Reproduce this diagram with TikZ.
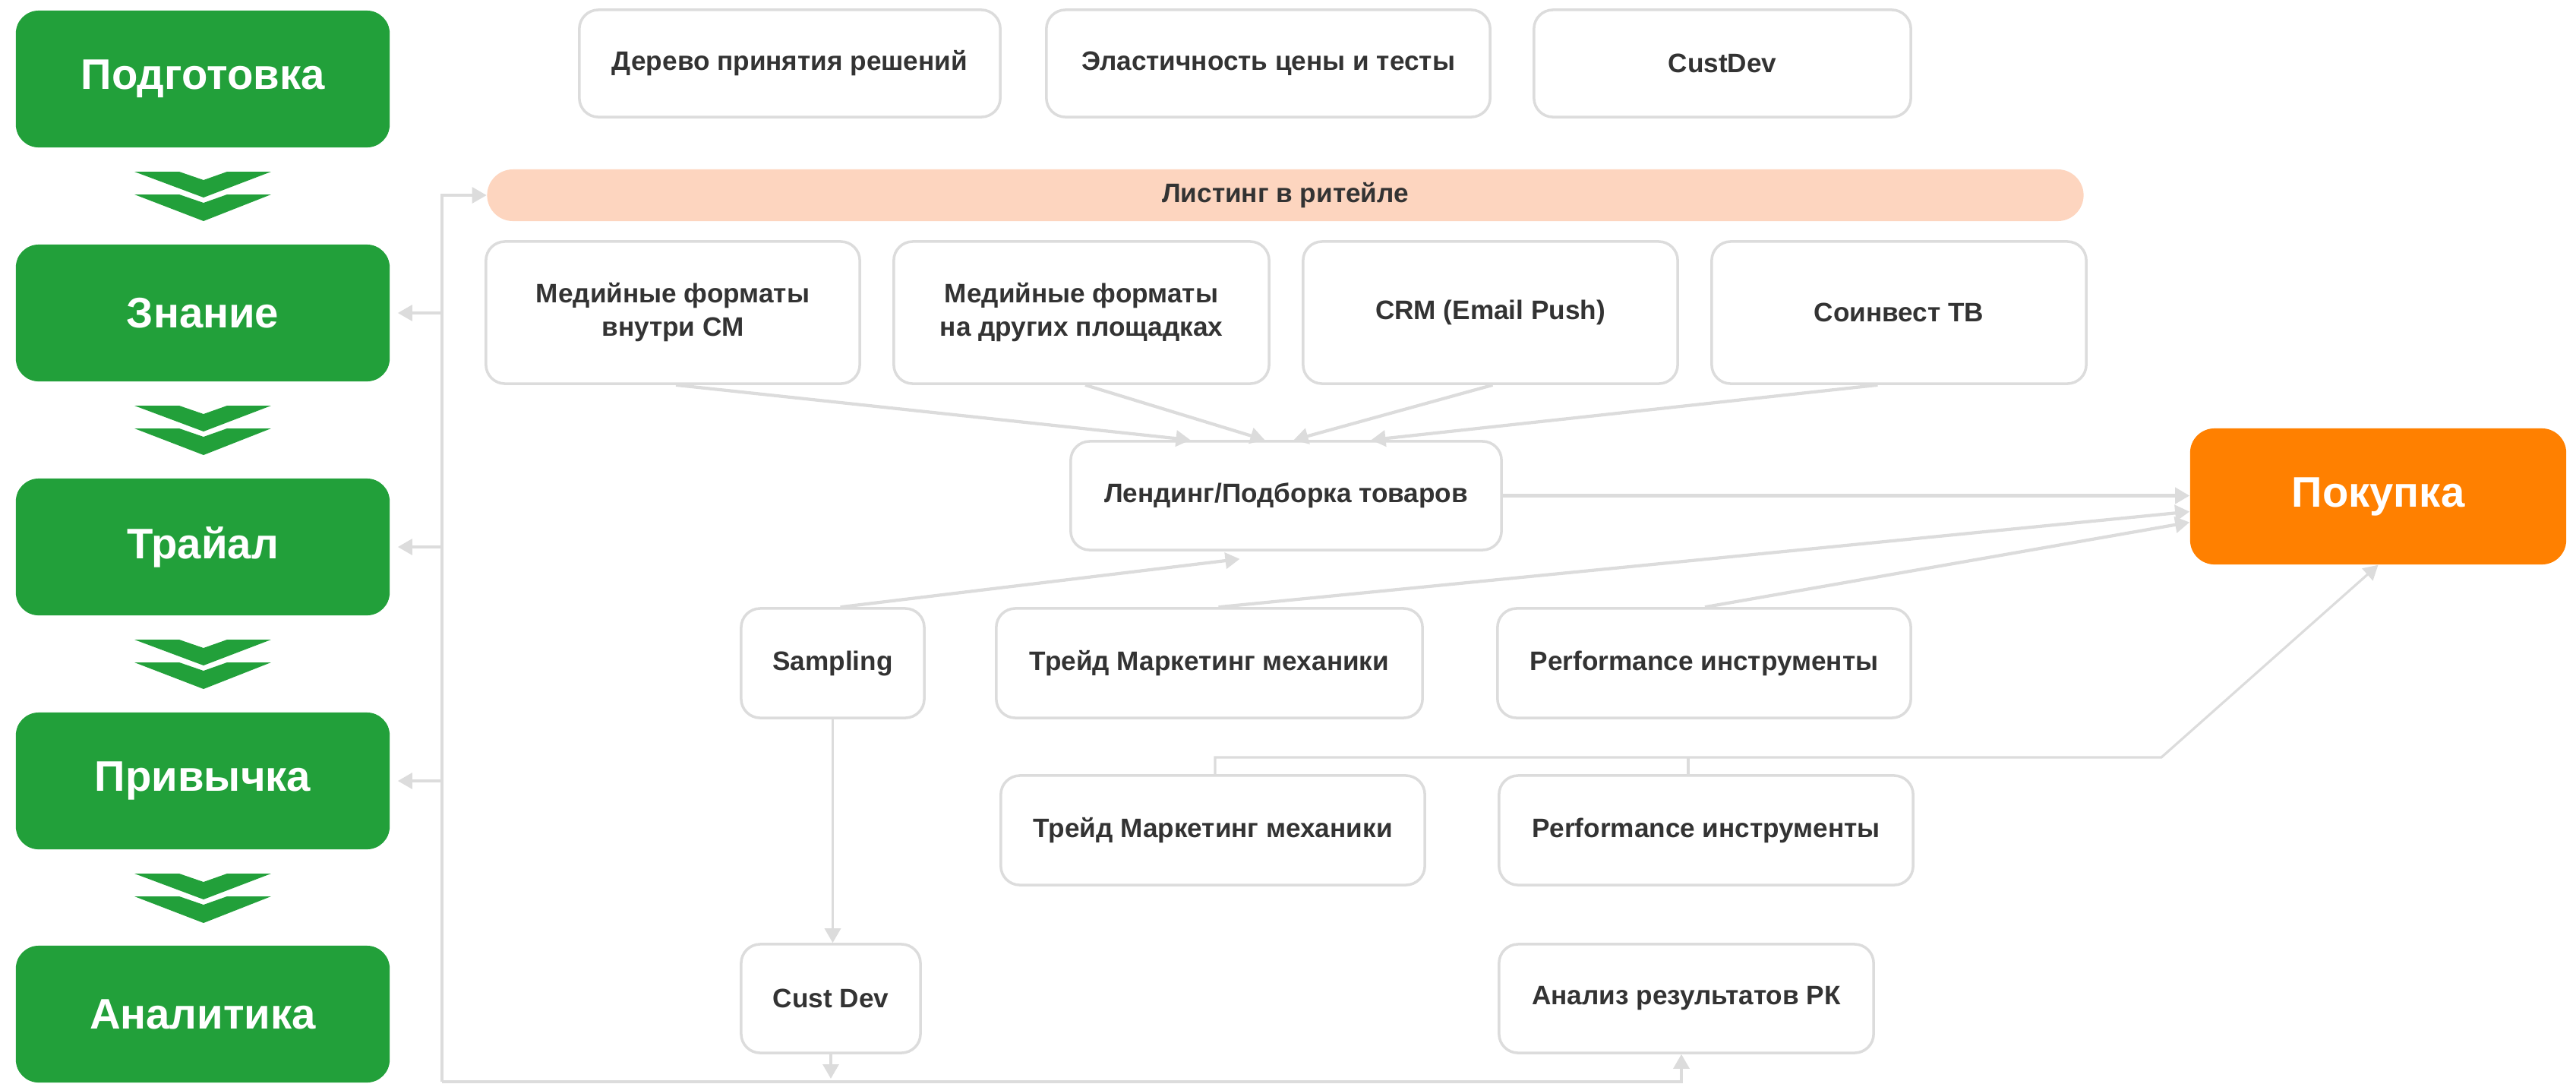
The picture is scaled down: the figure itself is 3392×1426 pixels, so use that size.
\documentclass[tikz,border=0pt]{standalone}
\usepackage{fontspec}
\setmainfont{Liberation Sans}
\usetikzlibrary{arrows.meta,calc}
\definecolor{grn}{HTML}{22A03A}
\definecolor{org}{HTML}{FF8000}
\definecolor{pch}{HTML}{FDD5BF}
\definecolor{gln}{HTML}{DCDCDC}
\definecolor{txt}{HTML}{333333}
\begin{document}
\begin{tikzpicture}[x=0.01cm,y=-0.01cm,
  gbox/.style={fill=grn, rounded corners=0.3cm, text=white, font=\fontsize{16}{19}\selectfont\bfseries, minimum width=4.92cm, minimum height=1.8cm, inner sep=0pt},
  wbox/.style={draw=gln, line width=1pt, fill=white, rounded corners=0.25cm, text=txt, font=\fontsize{10}{12.5}\selectfont\bfseries, align=center, inner sep=0pt},
  ln/.style={draw=gln, line width=0.9pt},
  lnk/.style={draw=gln, line width=1.2pt},
  arr/.style={-{Triangle[length=0.19cm,width=0.21cm]}},
]
\useasboundingbox (0,0) rectangle (3392,1426);

% green stages
\node[gbox] (prep)  at (267,104)  {Подготовка};
\node[gbox] (know)  at (267,412)  {Знание};
\node[gbox] (trial) at (267,720)  {Трайал};
\node[gbox] (habit) at (267,1028) {Привычка};
\node[gbox] (anal)  at (267,1335) {Аналитика};

% chevrons
\foreach \y in {226,534,842,1150} {
  \fill[grn] (177,\y) -- (236,\y) -- (268,\y+11) -- (299,\y) -- (357,\y) -- (268,\y+34) -- cycle;
  \fill[grn] (177,\y+30) -- (236,\y+30) -- (268,\y+41) -- (299,\y+30) -- (357,\y+30) -- (268,\y+65) -- cycle;
}

% top row
\node[wbox, minimum width=5.54cm, minimum height=1.41cm] (tree) at (1040,83.5) {Дерево принятия решений};
\node[wbox, minimum width=5.84cm, minimum height=1.41cm] (elast) at (1670,83.5) {Эластичность цены и тесты};
\node[wbox, minimum width=4.96cm, minimum height=1.41cm] (cdevtop) at (2268,83.5) {CustDev};

% listing bar
\node[fill=pch, rounded corners=0.34cm, minimum width=21.01cm, minimum height=0.68cm, inner sep=0pt, text=txt, font=\fontsize{10}{12}\selectfont\bfseries] (list) at (1692.5,257) {Листинг в ритейле};

% row 2
\node[wbox, minimum width=4.92cm, minimum height=1.87cm] (m1) at (886,411.5) {Медийные форматы\\внутри СМ};
\node[wbox, minimum width=4.94cm, minimum height=1.87cm] (m2) at (1424,411.5) {Медийные форматы\\на других площадках};
\node[wbox, minimum width=4.93cm, minimum height=1.87cm] (crm) at (1962.5,411.5) {CRM (Email Push)};
\node[wbox, minimum width=4.93cm, minimum height=1.87cm] (tv) at (2500.5,411.5) {Соинвест ТВ};

% landing
\node[wbox, minimum width=5.67cm, minimum height=1.43cm] (land) at (1693.5,652.5) {Лендинг/Подборка товаров};

% row 3
\node[wbox, minimum width=2.41cm, minimum height=1.44cm] (samp) at (1096.5,873) {Sampling};
\node[wbox, minimum width=5.61cm, minimum height=1.44cm] (trade1) at (1592.5,873) {Трейд Маркетинг механики};
\node[wbox, minimum width=5.44cm, minimum height=1.44cm] (perf1) at (2244,873) {Performance инструменты};

% row 4
\node[wbox, minimum width=5.58cm, minimum height=1.44cm] (trade2) at (1597,1093) {Трейд Маркетинг механики};
\node[wbox, minimum width=5.45cm, minimum height=1.44cm] (perf2) at (2246.5,1093) {Performance инструменты};

% row 5
\node[wbox, minimum width=2.36cm, minimum height=1.43cm] (cdev) at (1094,1314.5) {Cust Dev};
\node[wbox, minimum width=4.93cm, minimum height=1.43cm] (res) at (2220.5,1314.5) {Анализ результатов РК};

% purchase
\node[fill=org, rounded corners=0.32cm, minimum width=4.95cm, minimum height=1.79cm, inner sep=0pt, text=white, font=\fontsize{16}{19}\selectfont\bfseries] (purch) at (3131.5,653.5) {Покупка};

% arrows into landing
\draw[lnk,arr] ($(m1.south)+(4,0)$) -- ($(land.north)+(-126,0)$);
\draw[lnk,arr] ($(m2.south)+(5,0)$) -- ($(land.north)+(-28,0)$);
\draw[lnk,arr] ($(crm.south)+(3,0)$) -- ($(land.north)+(10,0)$);
\draw[lnk,arr] ($(tv.south)+(-28,0)$) -- ($(land.north)+(112,0)$);

% into purchase
\draw[lnk,arr] (land.east) -- (land.east -| purch.west);
\draw[lnk,arr] ($(trade1.north)+(12,0)$) -- ($(purch.west)+(0,20)$);
\draw[lnk,arr] ($(perf1.north)+(1,0)$) -- ($(purch.west)+(0,34)$);

% sampling
\draw[lnk,arr] ($(samp.north)+(10,0)$) -- ($(land.south)+(-61,10)$);
\draw[ln,arr] (samp.south) -- (samp.south |- cdev.north);

% bracket to purchase
\coordinate (brL) at (1600,997);
\coordinate (brM) at (2223,997);
\coordinate (brR) at (2846,997);
\draw[ln,arr] (trade2.north -| brL) -- (brL) -- (brR) -- (purch.south);
\draw[ln] (perf2.north -| brM) -- (brM);

% feedback loop
\coordinate (fbB) at (582,1424);
\coordinate (fbT) at (582,257);
\coordinate (bR) at (2214,1424);
\draw[ln,arr] (cdev.south) -- ([yshift=0.04cm]cdev.south |- fbB);
\draw[ln,arr] (fbB) -- (fbT) -- (list.west);
\draw[ln,arr] (fbB) -- (bR) -- (bR |- res.south);
\foreach \n in {know,trial,habit}
  \draw[ln,arr,shorten >=0.1cm] (\n.east -| fbB) -- (\n.east);
\end{tikzpicture}
\end{document}
